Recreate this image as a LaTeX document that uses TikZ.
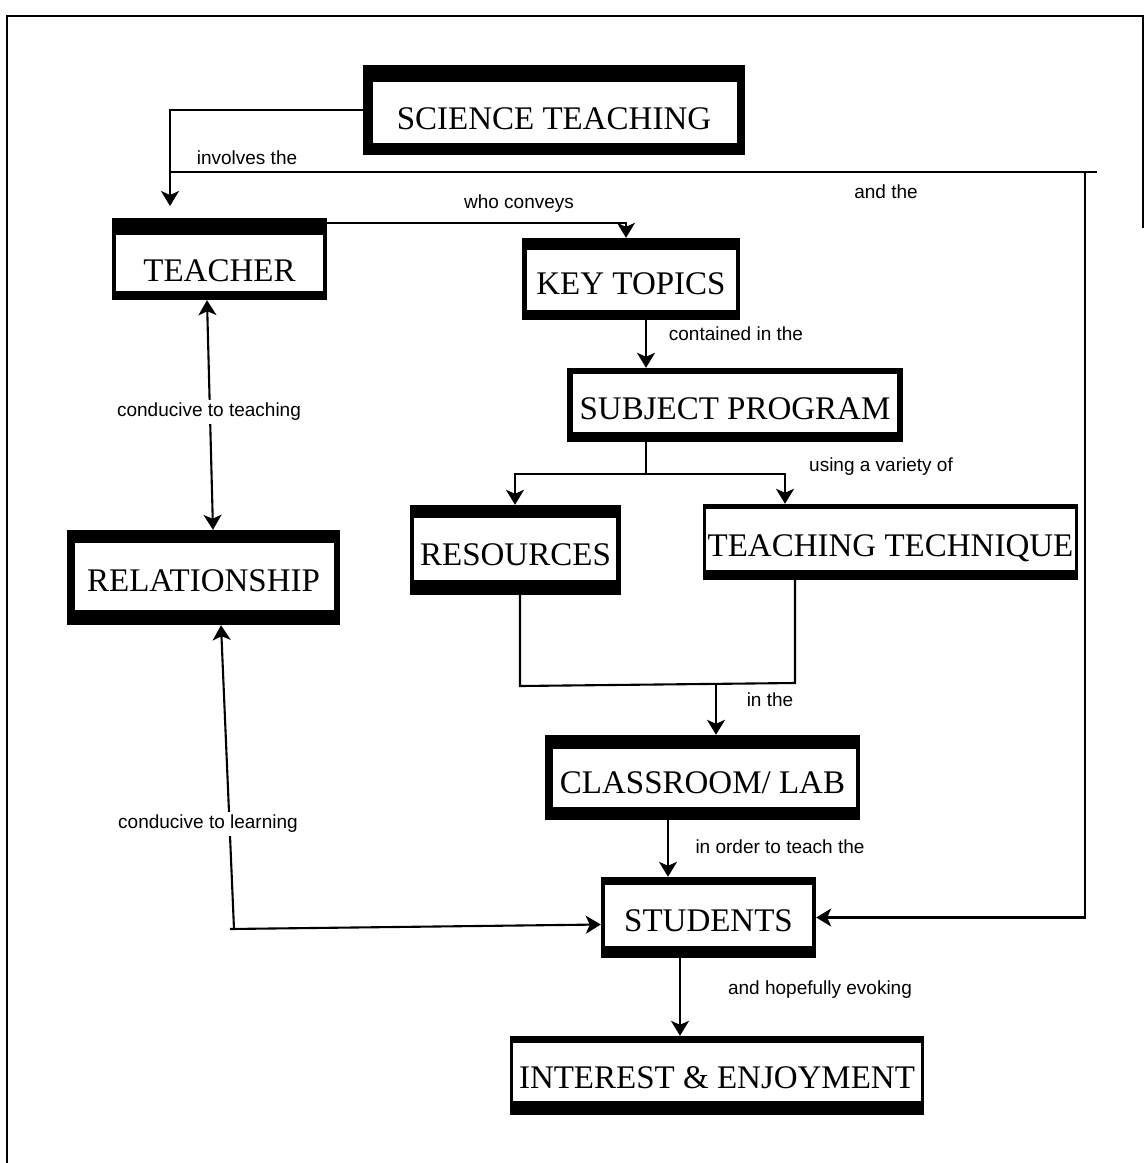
\documentclass[tikz,border=0pt]{standalone}
\usepackage{fontspec}
\setmainfont{Liberation Serif}
\newfontfamily\lblfont{Liberation Sans}
\usetikzlibrary{arrows.meta,calc}

% lower a box caption so its capitals sit #1pt below the box centre
\newcommand\lift[2]{\raisebox{\dimexpr-#1pt-11pt\relax}[0pt][0pt]{#2}}

\tikzset{
  % concept box: white inside, heavy black bands {top}{bottom}{left}{right}
  concept/.style n args={4}{
    draw=none, fill=white, inner sep=0pt,
    font=\fontsize{33}{36}\selectfont,
    path picture={
      \fill[black] (path picture bounding box.north west) rectangle ([yshift=-#1pt]path picture bounding box.north east);
      \fill[black] ([yshift=#2pt]path picture bounding box.south west) rectangle (path picture bounding box.south east);
      \fill[black] (path picture bounding box.north west) rectangle ([xshift=#3pt]path picture bounding box.south west);
      \fill[black] ([xshift=-#4pt]path picture bounding box.north east) rectangle (path picture bounding box.south east);
    }},
  link/.style={line width=2.1pt, black},
  frame/.style={line width=2.4pt, black},
  tip/.style={-{Stealth[length=15pt,width=18pt,inset=4pt]}},
  tips/.style={{Stealth[length=15pt,width=18pt,inset=4pt]}-{Stealth[length=15pt,width=18pt,inset=4pt]}},
  lbl/.style={font=\lblfont\fontsize{19}{22}\selectfont, inner sep=1pt},
  gap/.style={lbl, fill=white, inner sep=3pt},
}

\begin{document}
\begin{tikzpicture}[x=1pt, y=-1pt]
\useasboundingbox (0,0) rectangle (1146,1163);

% page frame
\draw[frame] (1143,228) -- (1143,16) -- (6,16);
\draw[frame] (7,16) -- (7,1163);

% concept boxes
\node[concept={17}{12}{10}{8}, minimum width=382, minimum height=90] (sci) at (554,110) {\lift{8}{SCIENCE TEACHING}};
\node[concept={17}{9}{4}{4}, minimum width=215, minimum height=82] (teacher) at (219.5,259) {\lift{11}{TEACHER}};
\node[concept={12}{10}{5}{4}, minimum width=218, minimum height=82] (keytopics) at (631,279) {\lift{4}{KEY TOPICS}};
\node[concept={6}{10}{6}{6}, minimum width=336, minimum height=74] (subject) at (735,405) {\lift{3}{SUBJECT PROGRAM}};
\node[concept={13}{15}{4}{5}, minimum width=211, minimum height=90] (resources) at (515.5,550) {\lift{4}{RESOURCES}};
\node[concept={5}{10}{3}{3}, minimum width=375, minimum height=76] (tt) at (890.5,542) {\lift{3}{TEACHING TECHNIQUE}};
\node[concept={13}{15}{8}{6}, minimum width=273, minimum height=95] (relationship) at (203.5,577.5) {\lift{2.5}{RELATIONSHIP}};
\node[concept={14}{13}{8}{4}, minimum width=315, minimum height=85] (classroom) at (702.5,777.5) {\lift{4.5}{CLASSROOM/ LAB}};
\node[concept={8}{12}{4}{4}, minimum width=215, minimum height=81] (students) at (708.5,917.5) {\lift{2.5}{STUDENTS}};
\node[concept={7}{14}{3}{3}, minimum width=414, minimum height=79] (interest) at (717,1075.5) {\lift{1.5}{INTEREST \& ENJOYMENT}};

% bend and branch points
\coordinate (invTip) at (170,206);
\coordinate (andStart) at (170,172);
\coordinate (andEnd) at (1097,172);
\coordinate (andDrop) at (1085,172);
\coordinate (cvX) at (626,223);
\coordinate (ktX) at (646,0);
\coordinate (split) at (646,474);
\coordinate (resX) at (515,0);
\coordinate (ttX) at (785,0);
\coordinate (mrgL) at (520,686);
\coordinate (mrgR) at (795,683);
\coordinate (mrgM) at (716,685);
\coordinate (clX) at (668,0);
\coordinate (stX) at (680,0);
\coordinate (tchX) at (207,0);
\coordinate (relX) at (213,0);
\coordinate (lrnCorner) at (234,929);
\coordinate (lrnTop) at (221,0);

% connectors
\draw[link,tip] (sci.west) -| (invTip);
\draw[link] (andStart) -- (andEnd);
\draw[link,tip] (andDrop) |- (students.east);
\draw[link,tip] (teacher.east |- cvX) -- (cvX) -- (cvX |- keytopics.north);
\draw[link,tip] (keytopics.south -| ktX) -- (subject.north -| ktX);
\draw[link] (subject.south -| split) -- (split);
\draw[link,tip] (split) -| (resources.north -| resX);
\draw[link,tip] (split) -| (tt.north -| ttX);
\draw[link] (resources.south -| mrgL) -- (mrgL) -- (mrgR) -- (tt.south -| mrgR);
\draw[link,tip] (mrgM) -- (classroom.north -| mrgM);
\draw[link,tip] (classroom.south -| clX) -- (students.north -| clX);
\draw[link,tip] (students.south -| stX) -- (interest.north -| stX);
\draw[link,tips] (teacher.south -| tchX) -- (relationship.north -| relX);
\draw[link,tip] (lrnCorner) -- (relationship.south -| lrnTop);
\draw[link,tip] ([xshift=-4pt]lrnCorner) -- ([yshift=-7pt]students.west);

% connector labels
\node[lbl] (lInv) at (247,158) {involves the};
\node[lbl] (lAnd) at (886,192) {and the};
\node[lbl] (lWho) at (519,204) {who conveys};
\node[lbl] (lCont) at (736,334) {contained in the};
\node[lbl] (lUse) at (881,467) {using a variety of};
\node[lbl] (lIn) at (770,700) {in the};
\node[lbl] (lOrder) at (780,847) {in order to teach the};
\node[lbl] (lHope) at (820,990) {and hopefully evoking};
\node[gap] (lTeach) at (209,412) {conducive to teaching};
\node[gap] (lLearn) at (208,824) {conducive to learning};
\end{tikzpicture}
\end{document}
